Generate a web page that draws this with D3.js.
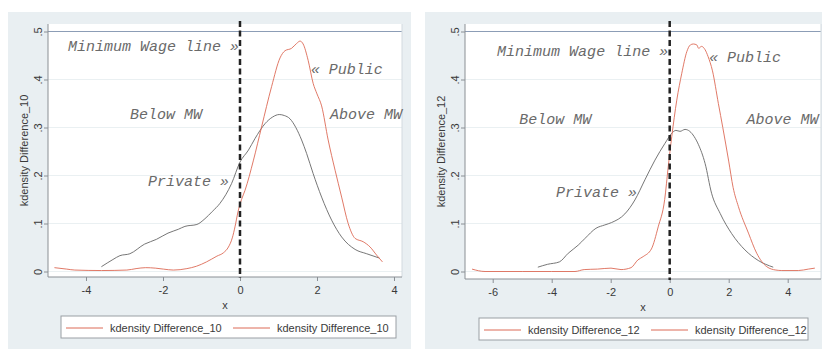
<!DOCTYPE html>
<html>
<head>
<meta charset="utf-8">
<script src="https://cdn.jsdelivr.net/npm/d3@7"></script>
<style>
  body { margin: 0; background: #fff; }
  svg { display: block; }
  .tick text { font-family: "Liberation Sans", Arial, sans-serif; fill: #3a3a3a; }
  .note { font-family: "Liberation Mono", "Courier New", monospace; font-style: italic; font-size: 15px; fill: #6a6a6a; }
</style>
</head>
<body>
<svg id="chart" width="822" height="349"></svg>
<script>
// kdensity of Difference_10 (left panel)
const private10 = [[-3.6,0.010],[-3.3,0.025],[-3.12,0.033],[-2.86,0.037],[-2.48,0.057],[-2.17,0.067],[-1.87,0.080],
  [-1.6,0.088],[-1.43,0.094],[-1.12,0.098],[-0.91,0.110],[-0.72,0.125],[-0.52,0.142],[-0.22,0.183],[0,0.228],
  [0.22,0.253],[0.39,0.277],[0.65,0.308],[0.85,0.322],[1.02,0.327],[1.15,0.325],[1.30,0.318],[1.45,0.300],
  [1.60,0.274],[1.73,0.246],[1.90,0.204],[2.12,0.155],[2.38,0.107],[2.64,0.072],[2.99,0.046],[3.29,0.037],[3.62,0.028]];
const public10 = [[-4.82,0.008],[-4.5,0.005],[-4.29,0.003],[-3.6,0.002],[-2.94,0.003],[-2.7,0.006],[-2.45,0.008],
  [-2.2,0.007],[-1.99,0.005],[-1.73,0.003],[-1.38,0.006],[-1.13,0.011],[-0.87,0.020],[-0.6,0.032],[-0.43,0.039],
  [-0.3,0.051],[-0.2,0.070],[-0.13,0.093],[-0.05,0.125],[0.04,0.150],[0.13,0.169],[0.35,0.232],[0.56,0.301],
  [0.82,0.385],[1.04,0.445],[1.17,0.460],[1.34,0.465],[1.47,0.475],[1.56,0.480],[1.64,0.474],[1.77,0.440],
  [1.90,0.392],[2.0,0.370],[2.12,0.345],[2.29,0.274],[2.47,0.211],[2.64,0.155],[2.81,0.100],[2.99,0.069],
  [3.20,0.062],[3.38,0.051],[3.55,0.034],[3.70,0.020]];

// kdensity of Difference_12 (right panel)
const private12 = [[-4.47,0.009],[-4.14,0.015],[-3.74,0.020],[-3.44,0.038],[-3.10,0.055],[-2.87,0.069],[-2.50,0.090],
  [-2.2,0.097],[-1.97,0.102],[-1.52,0.120],[-1.18,0.149],[-0.84,0.191],[-0.50,0.232],[-0.16,0.267],[0.07,0.288],
  [0.21,0.294],[0.35,0.292],[0.52,0.296],[0.68,0.292],[0.83,0.281],[0.97,0.265],[1.20,0.225],[1.42,0.163],
  [1.71,0.121],[2.10,0.079],[2.55,0.045],[3.0,0.023],[3.51,0.009]];
const public12 = [[-6.7,0.005],[-6.26,0.0],[-5,0.0],[-4,0.0],[-3.21,0.0],[-2.9,0.004],[-2.45,0.005],[-1.99,0.007],
  [-1.65,0.004],[-1.31,0.008],[-1.08,0.024],[-0.9,0.031],[-0.62,0.047],[-0.39,0.093],[-0.17,0.150],[-0.05,0.218],
  [0.07,0.281],[0.24,0.357],[0.41,0.413],[0.58,0.458],[0.70,0.472],[0.80,0.474],[0.92,0.472],[0.98,0.465],
  [1.08,0.469],[1.20,0.462],[1.30,0.448],[1.45,0.418],[1.65,0.350],[1.80,0.300],[2.0,0.230],[2.15,0.175],
  [2.33,0.135],[2.67,0.080],[2.95,0.038],[3.29,0.010],[3.6,0.003],[3.80,0.002],[4.36,0.002],[4.70,0.005],[4.92,0.007]];

const yTicks = [0, 0.1, 0.2, 0.3, 0.4, 0.5];
const xTicks10 = [-4, -2, 0, 2, 4];
const xTicks12 = [-6, -4, -2, 0, 2, 4];
const legend10 = ['kdensity Difference_10', 'kdensity Difference_10'];
const legend12 = ['kdensity Difference_12', 'kdensity Difference_12'];

// text annotations, placed in data units: [x, y, label]
const notes10 = [[-4.47,0.459,'Minimum Wage line »'],[1.84,0.411,'« Public'],[-2.86,0.317,'Below MW'],
  [2.34,0.317,'Above MW'],[-2.39,0.178,'Private »']];
const notes12 = [[-5.85,0.449,'Minimum Wage line »'],[1.33,0.437,'« Public'],[-5.1,0.307,'Below MW'],
  [2.6,0.307,'Above MW'],[-3.85,0.155,'Private »']];

const RED = '#dc6a56', GREY = '#666', BG = '#e9eff2';
const FONT = 'Liberation Sans, Arial, sans-serif';
const svg = d3.select('#chart');

function drawPanel(p) {
  const g = svg.append('g');
  g.append('rect').attr('x', p.box[0]).attr('y', 12).attr('width', p.box[1] - p.box[0]).attr('height', 337).attr('fill', BG);
  g.append('rect').attr('x', p.plot[0]).attr('y', 24).attr('width', p.plot[1] - p.plot[0]).attr('height', p.axisY - 24)
    .attr('fill', '#fff');

  const x = d3.scaleLinear().domain(p.xDomain).range(p.plot);
  const y = d3.scaleLinear().domain([0, 0.5]).range([271.5, 31.5]);

  // grid lines
  g.selectAll('.grid').data(yTicks.slice(0, 5)).enter().append('line')
    .attr('x1', p.plot[0]).attr('x2', p.plot[1]).attr('y1', d => y(d)).attr('y2', d => y(d))
    .attr('stroke', '#eaf0f2').attr('stroke-width', 1);
  g.append('line').attr('x1', p.plot[0]).attr('x2', p.plot[1]).attr('y1', y(0.5)).attr('y2', y(0.5))
    .attr('stroke', '#8c9db6').attr('stroke-width', 1);
  g.append('line').attr('x1', p.plot[1]).attr('x2', p.plot[1]).attr('y1', 24).attr('y2', p.axisY)
    .attr('stroke', '#d3dadf');

  // axes
  const xa = g.append('g').attr('transform', `translate(0,${p.axisY})`)
    .call(d3.axisBottom(x).tickValues(p.xTicks).tickSize(4).tickPadding(5).tickFormat(d3.format('d')));
  xa.select('.domain').attr('stroke', '#8a8f94').attr('d', `M${p.plot[0]},0H${p.plot[1]}`);
  xa.selectAll('.tick line').attr('stroke', '#8a8f94');
  xa.selectAll('.tick text').attr('font-size', 11).text(d => String(d));

  const ya = g.append('g').attr('transform', `translate(${p.plot[0]},0)`)
    .call(d3.axisLeft(y).tickValues(yTicks).tickSize(4).tickPadding(4)
      .tickFormat(d => d === 0 ? '0' : d3.format('.1f')(d).replace(/^0/, '')));
  ya.select('.domain').attr('stroke', '#8a8f94').attr('d', `M0,24V${p.axisY}`);
  ya.selectAll('.tick line').attr('stroke', '#8a8f94');
  ya.selectAll('.tick text').attr('font-size', 11).attr('text-anchor', 'middle')
    .attr('transform', 'translate(-10,0) rotate(-90)').attr('x', 0).attr('dy', '0.32em');

  g.append('text').attr('x', (p.plot[0] + p.plot[1]) / 2).attr('y', p.axisY + 32).attr('text-anchor', 'middle')
    .attr('font-family', FONT).attr('font-size', 11).attr('fill', '#3a3a3a').text('x');
  g.append('text').attr('transform', `translate(${p.plot[0] - 20},${(24 + p.axisY) / 2}) rotate(-90)`)
    .attr('text-anchor', 'middle').attr('font-family', FONT).attr('font-size', 11)
    .attr('fill', '#3a3a3a').text(p.yTitle);

  // density curves
  const line = d3.line().x(d => x(d[0])).y(d => y(d[1])).curve(d3.curveMonotoneX);
  g.append('path').datum(p.priv).attr('d', line).attr('fill', 'none').attr('stroke', GREY).attr('stroke-width', 0.9);
  g.append('path').datum(p.pub).attr('d', line).attr('fill', 'none').attr('stroke', RED).attr('stroke-width', 0.9);

  // minimum wage line
  g.append('line').attr('x1', x(0)).attr('x2', x(0)).attr('y1', 21).attr('y2', p.axisY + 1)
    .attr('stroke', '#222').attr('stroke-width', 2.5).attr('stroke-dasharray', '6,3.5');

  g.selectAll('.note').data(p.notes).enter().append('text').attr('class', 'note')
    .attr('x', d => x(d[0])).attr('y', d => y(d[1])).text(d => d[2]);

  // legend
  const lg = g.append('g').attr('transform', `translate(${p.legend[0]},${p.legend[1]})`);
  lg.append('rect').attr('width', p.legend[2]).attr('height', 22).attr('fill', '#fff').attr('stroke', '#9a9fa4');
  p.legendText.forEach((t, i) => {
    const ox = 5 + i * p.legendStep;
    lg.append('line').attr('x1', ox).attr('x2', ox + 37).attr('y1', 12).attr('y2', 12).attr('stroke', RED)
      .attr('stroke-width', 1);
    lg.append('text').attr('x', ox + 44).attr('y', 16).attr('font-family', FONT)
      .attr('font-size', 11).attr('fill', '#3a3a3a').text(t);
  });
}

drawPanel({ box: [8, 411], plot: [48, 402], axisY: 277, xDomain: [-4.987, 4.208], xTicks: xTicks10,
  priv: private10, pub: public10, notes: notes10, yTitle: 'kdensity Difference_10',
  legend: [61, 316, 335], legendStep: 167, legendText: legend10 });
drawPanel({ box: [425, 822], plot: [465, 821], axisY: 279, xDomain: [-6.939, 5.129], xTicks: xTicks12,
  priv: private12, pub: public12, notes: notes12, yTitle: 'kdensity Difference_12',
  legend: [479, 318, 329], legendStep: 167, legendText: legend12 });
</script>
</body>
</html>
